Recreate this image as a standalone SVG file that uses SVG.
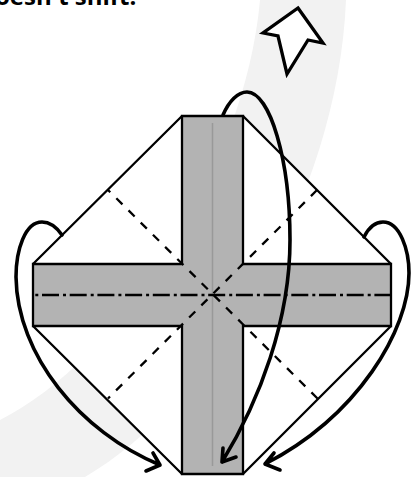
<svg xmlns="http://www.w3.org/2000/svg" width="414" height="477" viewBox="0 0 414 477">
<style>
.a{fill:none;stroke:#000;stroke-width:3.600;stroke-linecap:round;stroke-linejoin:round}
.g{fill:#b3b3b3}
.e{stroke:#000;stroke-width:2.300;fill:none}
.d{stroke:#000;stroke-width:2.300;fill:none;stroke-dasharray:8.600 8.600}
</style>
<rect width="414" height="477" fill="#fff"/>
<path id="band" d="M260 0C245 170 120 360 0 420V477H85C210 405 338 200 346 0Z" fill="#f2f2f2"/>
<text x="-5" y="5" font-family="'Open Sans',sans-serif" font-weight="700" font-size="24" fill="#000">oesn't shift.</text>
<g id="sheet">
<path d="M182 116H243L391 264V326L243 474H182L33 326V264Z" fill="#fff"/>
<path class="g" d="M182 116H243V264H391V326H243V474H182V326H33V264H182Z"/>
<path d="M212.500 123V466" stroke="#999" stroke-width="1.500" fill="none"/>
<path class="e" d="M182 116H243V264H391V326H243V474H182V326H33V264H182Z"/>
<path class="e" d="M182 116L33 264M243 116L391 264M33 326L182 474M391 326L243 474"/>
<path class="d" d="M317.500 398.500L108 190M317 190L108 398.500"/>
<path d="M35 295H391" stroke="#000" stroke-width="2.500" fill="none" stroke-dasharray="17 4 3 3.700" stroke-dashoffset="20.700"/>
</g>
<g id="connectors">
<path class="a" d="M62 235C55 225 48 222 42 222C25 222 16 250 16 277C17 355 80 432 160 465M153 453L160 465L146 471"/>
<path class="a" d="M364 237C369 227 376 222 383 222C400 222 409 250 409 273C409 330 358 416 265 464M274 453L265 464L280 470"/>
<path class="a" d="M223 115C229 101 238 92 247 92C270 92 290 160 290 240C290 320 260 400 222 462M223 448L222 462L236 457"/>
</g>
<g id="arrow"><path d="M298 8L323 43L308 40L287 74L278 36L263 33Z" fill="#fff" stroke="#000" stroke-width="3.300" stroke-linejoin="miter"/></g>
</svg>
